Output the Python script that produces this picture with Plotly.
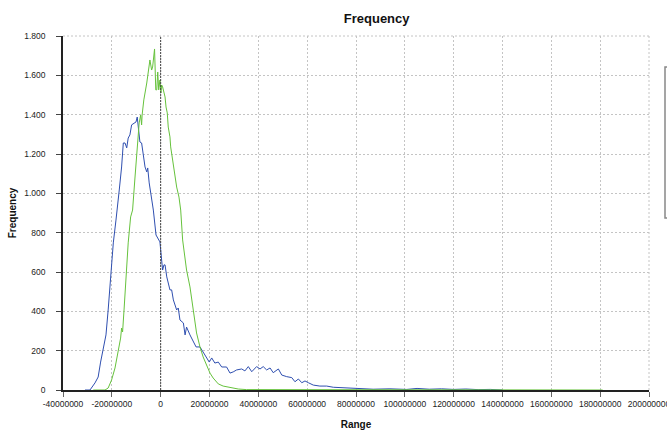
import plotly.graph_objects as go

# ---- data (x in millions, y = frequency) ----
blue_x_m = [-31.0, -28.95, -26.9, -25.6, -24.6, -23.5, -22.4, -21.5, -20.5, -19.4, -18.3, -17.8,
            -16.96, -16.0, -15.3, -14.6, -13.9, -13.3, -12.6, -11.9, -10.9, -10.1, -9.6, -9.0,
            -8.5, -7.8, -7.1, -6.4, -5.7, -5.3, -4.7, -4.0, -3.0, -1.9, -1.0, -0.3, 0.4, 0.8,
            1.35, 1.8, 2.5, 3.5, 3.8, 4.5, 5.2, 6.55, 7.2, 7.9, 9.3, 10.0, 10.6, 12.0, 13.4,
            14.5, 16.1, 17.4, 18.8, 19.9, 20.9, 22.2, 23.6, 25.0, 27.0, 28.4, 29.7, 31.1, 33.2,
            34.5, 35.9, 37.3, 39.3, 40.7, 42.0, 43.4, 44.8, 46.1, 48.2, 49.6, 51.6, 53.7, 55.0,
            56.4, 57.8, 59.1, 60.5, 62.5, 65.2, 68.0, 70.7, 73.4, 77.5, 81.6, 87.0, 93.9, 100.8,
            105.0, 110.0, 115.0, 120.0, 125.0, 130.0, 135.0, 140.0]
blue_y = [0, 0, 36, 66, 142, 219, 280, 407, 575, 748, 864, 915,
          1017, 1134, 1256, 1256, 1231, 1281, 1297, 1348, 1358, 1363, 1388, 1322,
          1261, 1256, 1180, 1134, 1109, 1129, 1053, 1002, 915, 788, 763, 753, 661, 610,
          636, 636, 575, 519, 509, 509, 458, 407, 417, 356, 341, 280, 320, 280, 244,
          219, 219, 193, 168, 142, 163, 137, 142, 117, 117, 86, 92, 102, 107,
          97, 119, 93, 119, 107, 119, 102, 112, 88, 107, 76, 68, 63, 42,
          56, 37, 46, 37, 25, 20, 20, 14, 12, 9, 7, 4, 6, 3,
          8, 4, 6, 3, 5, 2, 3, 0]

green_x_m = [-27.6, -22.8, -21.5, -20.1, -18.7, -17.4, -16.4, -16.0, -15.6, -15.0, -14.2, -13.3,
             -12.3, -11.5, -10.5, -9.6, -8.8, -8.2, -7.8, -7.6, -6.9, -5.7, -5.1, -4.4, -3.7,
             -3.3, -2.5, -2.0, -1.6, -1.2, -0.8, -0.3, 0.1, 0.4, 0.8, 1.1, 1.8, 2.2, 2.7, 3.1,
             3.8, 4.1, 4.9, 5.6, 6.55, 7.5, 8.2, 9.0, 10.0, 10.6, 12.0, 13.4, 14.7, 16.1, 17.4,
             18.8, 20.2, 21.5, 23.6, 25.6, 27.0, 29.1, 31.8, 35.2, 40.0, 45.0, 47.0, 52.0, 60.0,
             80.0, 100.0, 120.0, 140.0, 160.0, 181.0]
green_y = [0, 0, 10, 51, 112, 188, 264, 315, 295, 407, 575, 748,
           880, 915, 1083, 1236, 1358, 1398, 1348, 1398, 1475, 1561, 1627, 1678, 1627,
           1642, 1734, 1526, 1526, 1617, 1526, 1576, 1510, 1551, 1541, 1526, 1490, 1439, 1409, 1337,
           1287, 1236, 1170, 1119, 1032, 981, 915, 763, 676, 610, 524, 407, 290, 219, 168,
           127, 86, 61, 31, 20, 17, 9, 5, 2, 2, 0, 3, 2, 0,
           0, 0, 0, 0, 0, 0]

x_tick_vals = [-40000000, -20000000, 0, 20000000, 40000000, 60000000, 80000000, 100000000,
               120000000, 140000000, 160000000, 180000000, 200000000]
x_tick_text = ["-40000000", "-20000000", "0", "20000000", "40000000", "60000000", "80000000",
               "100000000", "120000000", "140000000", "160000000", "180000000", "200000000"]
y_tick_vals = [0, 200, 400, 600, 800, 1000, 1200, 1400, 1600, 1800]
y_tick_text = ["0", "200", "400", "600", "800", "1.000", "1.200", "1.400", "1.600", "1.800"]

blue_x = [v * 1e6 for v in blue_x_m]
green_x = [v * 1e6 for v in green_x_m]

FONT = "Liberation Sans, Arial, sans-serif"
GRID = "#c4c4c4"
GDASH = "2px,2px"

fig = go.Figure()
fig.add_trace(go.Scatter(x=blue_x, y=blue_y, mode="lines", name="Series 1",
                         line=dict(color="#2f4fb0", width=1)))
fig.add_trace(go.Scatter(x=green_x, y=green_y, mode="lines", name="Series 2",
                         line=dict(color="#66c23c", width=1)))

fig.update_layout(
    width=667, height=435,
    margin=dict(l=63, r=18, t=36, b=45, autoexpand=False),
    paper_bgcolor="white", plot_bgcolor="white",
    showlegend=False,
    font=dict(family=FONT, size=8, color="#222"),
    title=dict(text="<b>Frequency</b>", x=357 / 667, xanchor="center", xref="paper",
               y=1 - 18 / 435, yanchor="middle",
               font=dict(family=FONT, size=13, color="#111")),
)
fig.update_xaxes(
    range=[-40000000, 200000000],
    tickvals=x_tick_vals, ticktext=x_tick_text,
    showgrid=True, gridcolor=GRID, griddash=GDASH, gridwidth=1,
    zeroline=False, automargin=False,
    showline=True, linecolor="#222", linewidth=1.5,
    ticks="outside", ticklen=5, tickcolor="#666",
    ticklabeloverflow="allow", ticklabelstandoff=0,
    tickfont=dict(family=FONT, size=8.5, color="#222"),
    title=dict(text="<b>Range</b>", font=dict(family=FONT, size=10, color="#111"), standoff=13),
)
fig.update_yaxes(
    range=[0, 1800],
    tickvals=y_tick_vals, ticktext=y_tick_text,
    showgrid=True, gridcolor=GRID, griddash=GDASH, gridwidth=1,
    zeroline=False, automargin=False,
    showline=True, linecolor="#222", linewidth=1.5,
    ticks="outside", ticklen=5, tickcolor="#444",
    tickfont=dict(family=FONT, size=8.5, color="#222"),
    ticklabelstandoff=9,
    title=dict(text="<b>Frequency</b>", font=dict(family=FONT, size=10, color="#111"), standoff=6),
)

# dotted zero line and right/top border grid lines
fig.add_shape(type="line", xref="x", yref="paper", x0=0, x1=0, y0=0, y1=1,
              line=dict(color="#444", width=1, dash="2px,1px"))
fig.add_shape(type="line", xref="paper", yref="paper", x0=1, x1=1, y0=0, y1=1,
              line=dict(color=GRID, width=1, dash=GDASH))
fig.add_shape(type="line", xref="paper", yref="paper", x0=0, x1=1, y0=1, y1=1,
              line=dict(color=GRID, width=1, dash=GDASH))
# legend box cut off at right edge
fig.add_shape(type="rect", xref="paper", yref="paper",
              x0=(665 - 63) / 586, x1=1.1, y0=(390 - 218) / 354, y1=(390 - 67) / 354,
              line=dict(color="#888", width=1.5), fillcolor="white", layer="above")

fig.write_html("out.html", config={"displayModeBar": False},
               post_script="document.body.style.margin='0px';document.body.style.overflow='hidden';")
